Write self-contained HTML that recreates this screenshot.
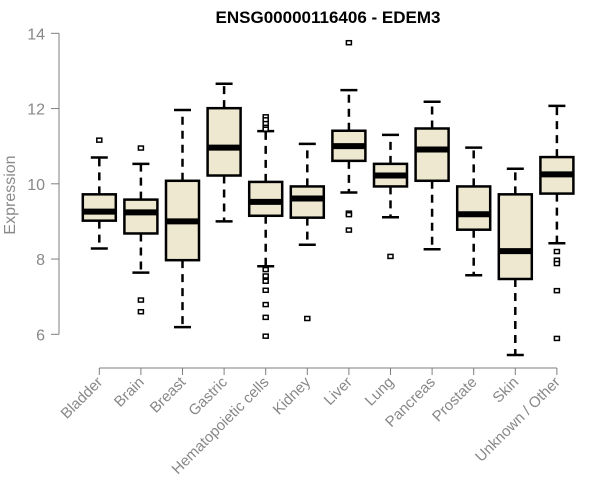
<!DOCTYPE html>
<html><head><meta charset="utf-8"><style>
body{margin:0;background:#fff}
svg{display:block;font-family:"Liberation Sans",Arial,sans-serif}
</style></head><body>
<svg id="chart" width="600" height="500" viewBox="0 0 600 500">
<text x="328" y="23" text-anchor="middle" font-weight="bold" font-size="17" fill="#000">ENSG00000116406 - EDEM3</text>
<text transform="translate(15,195) rotate(-90)" text-anchor="middle" font-size="16" fill="#8a8a8a">Expression</text>
<g id="axes"></g>
<g id="boxes"></g>
</svg>
<script>
const categories=["Bladder","Brain","Breast","Gastric","Hematopoietic cells","Kidney","Liver","Lung","Pancreas","Prostate","Skin","Unknown / Other"];
const whiskerLow=[8.28,7.64,6.19,9.0,7.81,8.38,9.77,9.11,8.26,7.57,5.45,8.42];
const q1=[9.02,8.68,7.97,10.22,9.15,9.10,10.61,9.93,10.08,8.78,7.47,9.74];
const median=[9.26,9.24,9.0,10.96,9.52,9.61,11.0,10.22,10.91,9.19,8.21,10.25];
const q3=[9.72,9.58,10.08,12.01,10.05,9.93,11.41,10.53,11.47,9.93,9.72,10.71];
const whiskerHigh=[10.70,10.53,11.96,12.66,11.40,11.06,12.49,11.30,12.18,10.96,10.40,12.07];
const outliers=[[11.16],[10.95,6.91,6.60],[],[],[11.78,11.7,11.6,11.5,11.45,7.72,7.55,7.41,7.17,6.79,6.45,5.95],[6.42],[13.75,9.22,9.18,8.77],[8.07],[],[],[],[8.2,7.97,7.88,7.16,5.89]];
const yTicks=[6,8,10,12,14];

const NS="http://www.w3.org/2000/svg";
const yMin=6,yMax=14,yTop=33.3,yBot=334.3;
const y=v=>yBot-(v-yMin)*(yBot-yTop)/(yMax-yMin);
const x0=99.3,step=41.6;
const x=i=>x0+i*step;
function mk(tag,attrs,parent){const e=document.createElementNS(NS,tag);for(const k in attrs)e.setAttribute(k,attrs[k]);parent.appendChild(e);return e;}
const axes=document.getElementById('axes'),boxes=document.getElementById('boxes');
const axisCol="#7f7f7f";
let l=mk('line',{x1:59,x2:59,y1:y(yTicks[0]),y2:y(yTicks[yTicks.length-1]),stroke:axisCol},axes);


yTicks.forEach(t=>{
  const tl=mk('line',{x1:51,x2:59,y1:y(t),y2:y(t),stroke:axisCol},axes);
  
  
  const tx=mk('text',{x:45,y:y(t)+6,'text-anchor':'end','font-size':16,fill:'#888'},axes);
  tx.textContent=t;
  
  
});
l=mk('line',{x1:x(0),x2:x(categories.length-1),y1:368,y2:368,stroke:axisCol},axes);


categories.forEach((c,i)=>{
  const tl=mk('line',{x1:x(i),x2:x(i),y1:368,y2:375,stroke:axisCol},axes);
  
  
  const tx=mk('text',{transform:`translate(${x(i)+4},383) rotate(-45)`,'text-anchor':'end','font-size':15,fill:'#888'},axes);
  tx.textContent=c;
  
  
});
const hw=16.5;
categories.forEach((c,i)=>{
  const g=mk('g',{},boxes);
  
  
  const cx=x(i);
  mk('line',{x1:cx,x2:cx,y1:y(q3[i]),y2:y(whiskerHigh[i]),stroke:'#000','stroke-width':2.5,'stroke-dasharray':'8,6'},g);
  mk('line',{x1:cx,x2:cx,y1:y(q1[i]),y2:y(whiskerLow[i]),stroke:'#000','stroke-width':2.5,'stroke-dasharray':'8,6'},g);
  mk('line',{x1:cx-8.5,x2:cx+8.5,y1:y(whiskerHigh[i]),y2:y(whiskerHigh[i]),stroke:'#000','stroke-width':2.5},g);
  mk('line',{x1:cx-8.5,x2:cx+8.5,y1:y(whiskerLow[i]),y2:y(whiskerLow[i]),stroke:'#000','stroke-width':2.5},g);
  mk('rect',{x:cx-hw,y:y(q3[i]),width:2*hw,height:y(q1[i])-y(q3[i]),fill:'#ede8cf',stroke:'#000','stroke-width':2.5},g);
  mk('line',{x1:cx-hw,x2:cx+hw,y1:y(median[i]),y2:y(median[i]),stroke:'#000','stroke-width':6},g);
  outliers[i].forEach(v=>{
    const o=mk('rect',{x:cx-2.5,y:y(v)-2,width:5,height:4,fill:'#fff',stroke:'#000','stroke-width':1.5},g);
    
    
  });
});
</script>
</body></html>
